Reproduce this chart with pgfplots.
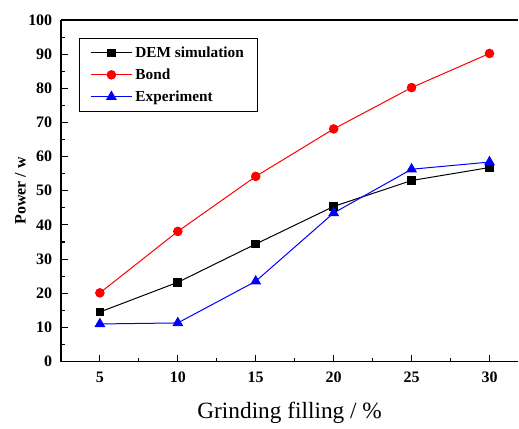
\documentclass[border=0pt]{standalone}
\usepackage{pgfplots}
\pgfplotsset{compat=1.18}
\usepackage{fontspec}
\setmainfont{Liberation Serif}
\begin{document}
\begin{tikzpicture}
\begin{axis}[
  scale only axis,
  width=343.5pt, height=256.5pt,
  xmin=2.5, xmax=31.85, ymin=0, ymax=100,
  axis x line*=box, axis y line*=left,
  axis line style={line width=1pt, black},
  xtick={5,10,15,20,25,30},
  ytick={0,10,...,100},
  minor x tick num=1, minor y tick num=1,
  tick align=inside,
  major tick length=5pt, minor tick length=3pt,
  tick style={black, line width=0.8pt},
  xtick pos=bottom, ytick pos=left,
  /pgf/number format/assume math mode=true,
  ticklabel style={font=\bfseries\fontsize{12}{14}\selectfont},
  xticklabel style={yshift=-4pt},
  yticklabel style={xshift=-3pt},
  xlabel={Grinding filling / \%},
  xlabel style={font=\fontsize{17.5}{20}\selectfont, yshift=-8pt},
  ylabel={Power / w},
  ylabel style={font=\bfseries\fontsize{12}{14}\selectfont, yshift=-5pt},
  legend cell align=left,
  legend style={at={(rel axis cs:0.0393,0.947)}, anchor=north west,
    draw=black, line width=0.8pt, font=\bfseries\fontsize{11.5}{13}\selectfont,
    inner xsep=8pt, inner ysep=4pt, row sep=3pt},
  legend image code/.code={\draw[mark repeat=2,mark phase=2,#1] plot coordinates {(0cm,0cm)(0.55cm,0cm)(1.1cm,0cm)};},
]
\addplot[black, line width=0.75pt, mark=square*, mark size=2.9pt, mark options={solid}] coordinates {
(5,14.5) (10,23.2) (15,34.4) (20,45.4) (25,53.0) (30,56.8)};
\addlegendentry{DEM simulation}
\addplot[red, line width=0.75pt, mark=*, mark size=3.2pt] coordinates {
(5,20.1) (10,38.1) (15,54.2) (20,68.1) (25,80.2) (30,90.2)};
\addlegendentry{Bond}
\addplot[blue, line width=0.75pt, mark=triangle*, mark size=4pt] coordinates {
(5,11.0) (10,11.3) (15,23.5) (20,43.5) (25,56.3) (30,58.4)};
\addlegendentry{Experiment}
\end{axis}
\path (current axis.south west) ++(-45.75pt,-49.5pt);
\path (current axis.north east) ++(0,15pt);
\end{tikzpicture}
\end{document}
